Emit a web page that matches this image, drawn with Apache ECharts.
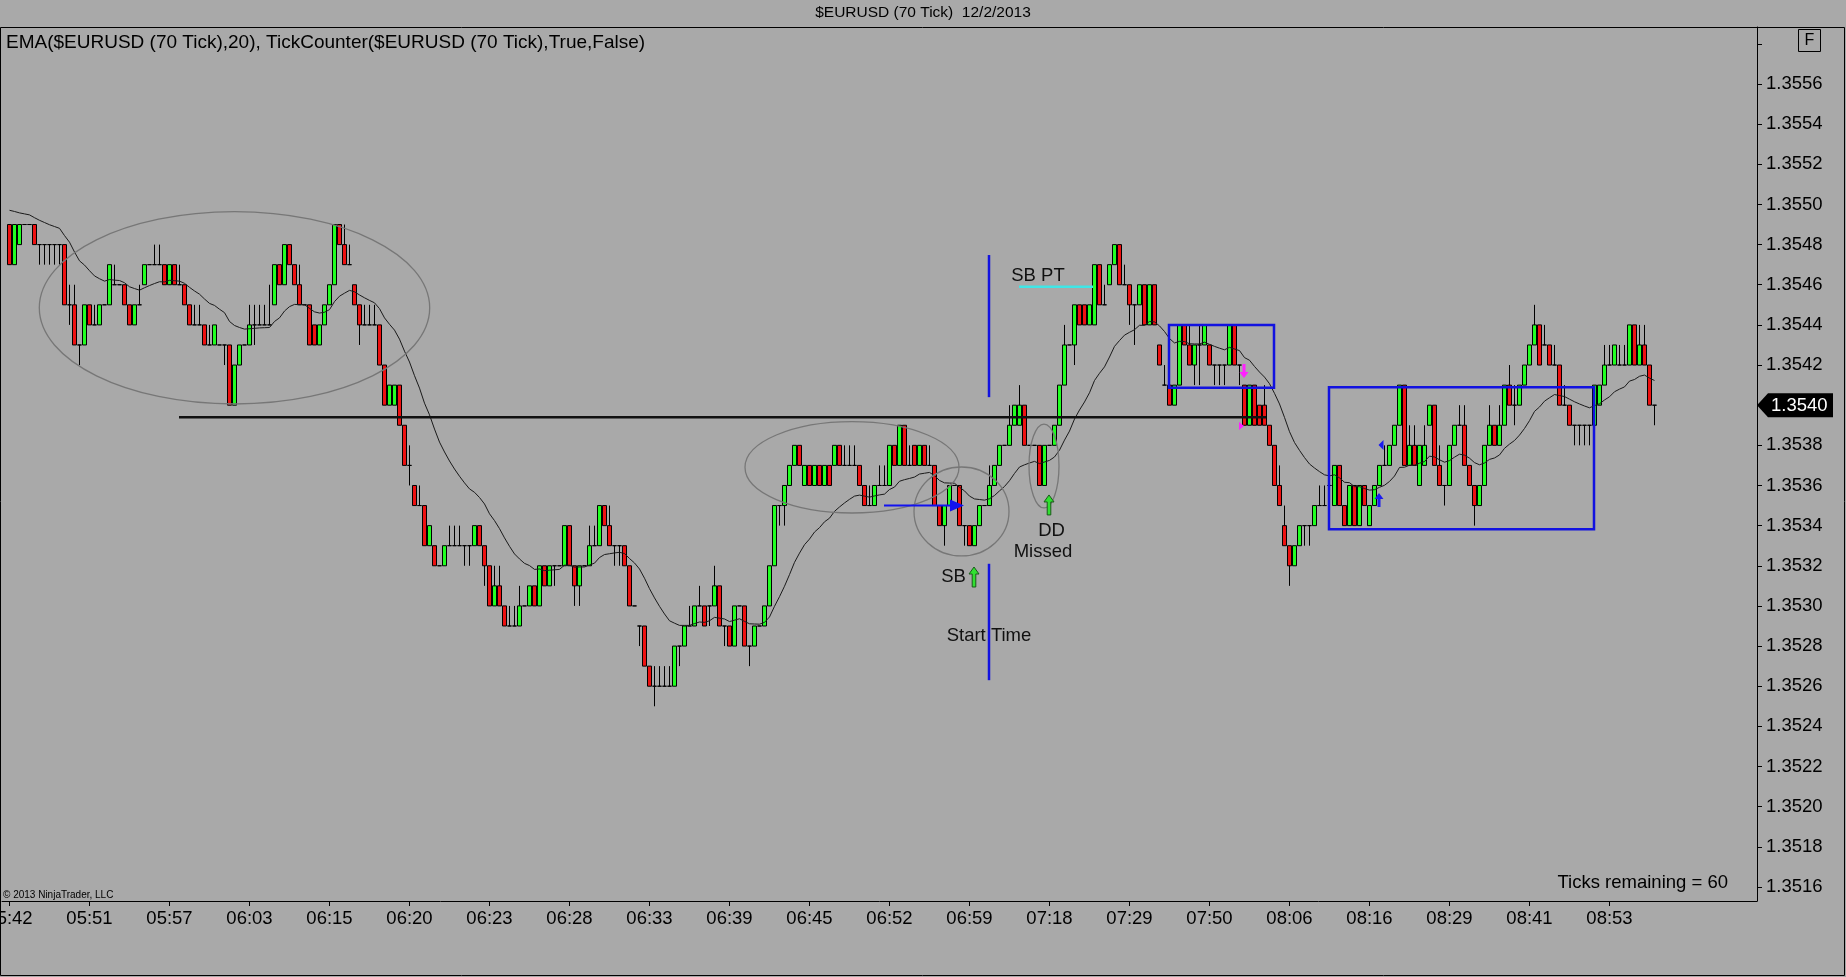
<!DOCTYPE html>
<html><head><meta charset="utf-8">
<script src="https://cdn.jsdelivr.net/npm/echarts@6/dist/echarts.min.js"></script>
<style>html,body{margin:0;padding:0;background:#a9a9a9;}#c{width:1846px;height:977px;}</style>
</head><body><div id="c"></div>
<script>
// ================= DATA =================
const timeLabels = ['05:42','05:51','05:57','06:03','06:15','06:20','06:23','06:28','06:33','06:39',
  '06:45','06:52','06:59','07:18','07:29','07:50','08:06','08:16','08:29','08:41','08:53'];
const barsPerLabel = 16;      // one time label every 16 bars
const firstLabelSlot = 1;     // slot of the first bar / first label
const slotCount = 351;        // bar slots across the plot (incl. empty right margin)

// OHLC of the 70-tick bars, in pips above 1.3500 (e.g. 49 -> 1.3549)
const openPips = [
 49,47,48,49,49,49,48,48,48,48, 48,48,45,45,43,43,45,44,44,45, 45,46,46,46,45,44,45,46,47,47,
 47,47,46,47,46,46,45,44,44,44, 43,43,43,43,43,40,42,43,43,44, 44,44,44,45,47,46,48,47,46,45,
 45,44,43,44,45,46,49,48,47,46, 45,44,44,44,44,42,40,40,41,39, 37,36,35,35,33,33,32,32,33,33,
 33,33,33,33,34,33,32,30,31,30, 29,29,29,30,30,31,30,32,31,32, 32,32,34,32,31,32,32,33,33,35,
 34,33,33,33,32,30,29,29,27,26, 26,26,26,26,28,28,29,29,30,30, 30,30,31,29,29,28,30,30,28,28,
 29,29,30,32,35,35,36,37,38,36, 37,36,37,36,37,37,38,37,37,37, 37,36,35,35,36,36,36,38,37,39,
 37,38,37,38,37,37,35,34,35,36, 36,34,34,33,34,35,35,36,37,38, 38,39,39,40,38,38,38,36,38,38,
 39,41,43,43,45,45,44,44,47,45, 46,47,48,46,46,45,45,46,44,46, 43,41,41,40,41,44,43,42,43,43,
 43,42,42,42,42,44,42,41,39,41, 40,40,39,38,36,34,33,32,33,34, 34,34,35,35,36,35,37,35,34,36,
 34,36,34,35,36,37,37,38,39,41, 37,38,36,37,39,40,37,36,36,38, 39,39,37,36,35,36,38,39,38,39,
 41,40,40,41,42,43,44,43,43,42, 42,40,40,39,39,39,39,39,40,41, 42,42,42,42,42,44,42,43,42,40];
const highPips = [
 49,49,49,49,49,49,48,48,48,48, 48,48,46,46,43,45,45,45,45,45, 47,47,46,46,45,45,46,47,47,48,
 48,47,47,47,47,46,45,45,45,44, 44,44,43,43,43,42,43,43,45,45, 45,45,46,47,47,48,48,47,47,45,
 45,44,44,45,46,49,49,49,48,46, 45,45,45,45,44,42,41,41,41,39, 38,36,36,35,34,33,32,33,34,34,
 34,33,33,34,34,33,32,32,32,30, 30,30,31,30,31,31,32,32,32,32, 32,34,34,32,32,32,34,34,35,35,
 35,33,33,33,32,30,29,29,27,27, 27,27,27,28,28,29,30,30,31,30, 30,32,31,29,29,30,30,30,28,29,
 29,30,32,35,35,36,37,38,38,37, 37,37,37,37,37,38,38,38,38,38, 37,36,36,36,37,37,38,38,39,39,
 38,38,38,38,38,37,35,35,36,36, 36,34,34,34,35,35,37,37,38,38, 40,40,41,40,38,38,38,38,38,39,
 41,44,43,45,45,45,45,47,47,46, 47,48,48,47,46,45,46,46,46,46, 43,42,41,41,44,44,44,43,44,44,
 43,42,42,42,44,44,42,41,41,41, 40,41,39,38,37,35,33,33,34,34, 34,35,36,36,37,37,37,35,36,36,
 36,36,35,36,37,38,38,39,41,41, 39,39,38,39,40,40,38,36,38,39, 40,40,37,36,36,38,40,39,40,41,
 42,41,41,42,43,45,44,44,43,43, 42,41,40,39,39,39,39,41,41,43, 43,43,43,43,44,44,44,44,42,40];
const lowPips = [
 47,47,48,49,49,48,47,47,47,47, 47,45,44,43,42,43,44,44,44,45, 45,46,46,45,44,44,45,46,47,47,
 47,46,46,46,46,45,44,44,44,43, 43,43,43,42,40,40,42,43,43,43, 44,44,44,45,46,46,47,46,45,45,
 43,43,43,44,45,46,48,47,47,45, 43,44,44,44,42,40,40,40,39,37, 36,35,35,33,33,32,32,32,33,33,
 33,32,32,33,33,31,30,30,30,29, 29,29,29,30,30,30,30,31,31,31, 32,32,32,30,30,32,32,33,33,34,
 33,32,32,32,30,30,28,27,26,25, 26,26,26,26,27,28,29,29,30,29, 29,30,29,28,28,28,30,28,27,28,
 29,29,30,32,34,34,36,37,37,36, 36,36,36,36,36,37,37,37,37,37, 36,35,35,35,36,36,36,37,37,37,
 37,37,37,37,37,35,34,33,35,36, 34,33,33,33,34,35,35,36,37,38, 38,39,39,38,38,38,36,36,38,38,
 39,41,43,42,44,44,44,44,45,45, 46,47,46,46,44,43,45,44,44,44, 42,41,40,40,41,43,42,41,41,43,
 42,41,41,41,42,42,41,39,39,39, 39,39,38,36,35,33,31,32,33,33, 33,34,35,35,35,35,35,34,34,34,
 34,35,34,35,36,37,37,38,39,37, 37,37,36,37,39,37,36,35,36,38, 39,37,36,34,35,36,38,38,38,39,
 40,39,40,41,42,43,42,43,42,42, 40,40,39,38,38,38,38,39,40,41, 42,42,42,42,42,42,42,42,40,39];
const closePips = [
 47,49,49,49,49,48,48,48,48,48, 48,45,45,43,43,45,44,44,45,45, 47,46,46,45,44,45,45,47,47,47,
 47,46,47,46,46,45,44,44,44,43, 43,44,43,43,40,42,43,43,44,44, 44,44,44,47,46,48,47,46,45,45,
 43,43,44,45,46,49,48,47,47,45, 44,44,44,44,42,40,41,41,39,37, 37,35,35,33,34,32,32,33,33,33,
 33,33,33,34,33,32,30,31,30,29, 29,29,30,30,31,30,32,31,32,32, 32,34,32,31,32,32,33,33,35,34,
 33,33,33,32,30,30,29,27,26,26, 26,26,26,28,28,29,29,30,30,29, 30,31,29,29,28,30,30,28,28,29,
 29,30,32,35,35,36,37,38,37,37, 36,37,36,37,36,38,37,37,37,37, 36,35,35,36,36,36,38,37,39,37,
 37,37,38,37,37,35,34,35,36,36, 34,34,33,34,35,35,36,37,38,38, 39,40,40,38,38,38,36,38,38,39,
 41,43,43,45,44,44,45,47,45,45, 47,48,46,46,45,45,46,44,46,44, 42,41,40,41,44,43,42,43,43,44,
 42,42,42,42,44,42,42,39,41,39, 39,39,38,36,35,33,32,33,34,34, 34,35,35,35,36,37,35,34,36,34,
 36,35,35,36,37,37,38,39,41,37, 38,37,38,38,40,37,36,36,38,39, 39,37,36,35,36,38,39,38,39,41,
 40,40,41,42,43,44,42,43,42,42, 40,40,39,39,39,39,39,41,41,42, 42,43,42,42,44,42,43,42,40,40];

const emaPeriod = 20;
const emaStartValue = 1.35500;   // EMA level just before the first visible bar

const priceLabels = [1.3516,1.3518,1.3520,1.3522,1.3524,1.3526,1.3528,1.3530,1.3532,1.3534,1.3536,
  1.3538,1.3540,1.3542,1.3544,1.3546,1.3548,1.3550,1.3552,1.3554,1.3556];
const unlabeledTicks = [1.3558];
const priceMin = 1.35153, priceMax = 1.355884;
const lastPrice = 1.3540;
const dashedLevel = 1.3550;
const solidLevel = 1.35248;

// drawn objects, in (bar index, price)
const ellipses = [ [6.96, 85.04, 1.354964, 1.354006], [148.1, 190.9, 1.353918, 1.353463],
                   [181.9, 200.9, 1.353692, 1.353249], [204.9, 210.9, 1.353906, 1.353488] ];
const boxes = [ [232.9, 253.9, 1.35440, 1.354087], [264.9, 317.9, 1.354089, 1.353382] ];
const startTimeLine = [ [196.9, 1.354748, 1.35404], [196.9, 1.35321, 1.35263] ];
const blackLevelLine = [34.9, 252.3, 1.35394];
const targetLine = [202.9, 217.7, 1.35459];
const blueArrow = [175.9, 191.9, 1.35350];
const notes = [ ['SB PT', 206.7, 1.354644], ['DD', 209.4, 1.353373], ['Missed', 207.7, 1.353269],
                ['Start Time', 196.9, 1.352852], ['SB', 189.8, 1.353144] ];
const greenArrows = [ [193.9, 1.353144], [208.9, 1.353503] ];
const magentaDown = [247.9, 1.35417];
const magentaRight = [247.3, 1.353896];
const blueUp = [274.9, 1.353528];
const blueLeft = [275.4, 1.353802];

// ================= BUILD =================
const FONT = '"Liberation Sans", Arial, sans-serif';
const toPrice = v => +(1.35 + v / 10000).toFixed(5);
const categories = [];
for (let i = 0; i < slotCount; i++) categories.push(String(i));
const labelAt = i => {
  const j = (i - firstLabelSlot) / barsPerLabel;
  return (Number.isInteger(j) && j >= 0 && j < timeLabels.length) ? timeLabels[j] : '';
};
const hasLabel = i => labelAt(i) !== '';

const candles = [['-', '-', '-', '-']];
const alpha = 2 / (emaPeriod + 1);
const ema = [null];
let e = emaStartValue;
for (let k = 0; k < openPips.length; k++) {
  candles.push([toPrice(openPips[k]), toPrice(closePips[k]), toPrice(lowPips[k]), toPrice(highPips[k])]);
  e = e + alpha * (toPrice(closePips[k]) - e);
  ema.push(+e.toFixed(6));
}

const chart = echarts.init(document.getElementById('c'), null, {renderer: 'canvas', width: 1846, height: 977});
chart.setOption({
  animation: false,
  backgroundColor: '#a9a9a9',
  grid: {left: 2, right: 89, top: 27, bottom: 76, show: false, containLabel: false, outerBoundsMode: 'none'},
  xAxis: {
    type: 'category', data: categories, boundaryGap: true,
    axisLine: {show: true, lineStyle: {color: '#000', width: 1}},
    axisTick: {show: true, alignWithLabel: true, interval: i => hasLabel(i), length: 5, lineStyle: {color: '#000'}},
    axisLabel: {interval: i => hasLabel(i), formatter: (v) => labelAt(+v), color: '#000',
      fontFamily: FONT, fontSize: 18.5, margin: 8, hideOverlap: false},
    splitLine: {show: false}
  },
  yAxis: {
    type: 'value', position: 'right', min: priceMin, max: priceMax, scale: true,
    axisLine: {show: true, lineStyle: {color: '#000'}},
    axisTick: {show: true, length: 5, customValues: priceLabels.concat(unlabeledTicks), lineStyle: {color: '#000'}},
    axisLabel: {customValues: priceLabels, formatter: v => v.toFixed(4), color: '#000',
      fontFamily: FONT, fontSize: 18.5, margin: 9},
    splitLine: {show: false}
  },
  series: [
    {
      type: 'candlestick', data: candles, barWidth: 4.2,
      itemStyle: {color: '#22ff22', color0: '#ee1111', borderColor: '#000', borderColor0: '#000',
        borderColorDoji: '#000', borderWidth: 1}
    },
    {
      type: 'line', data: ema, showSymbol: false, symbol: 'none', connectNulls: false,
      lineStyle: {color: '#1a1a1a', width: 1}, z: 3,
      markLine: {silent: true, symbol: ['none', 'none'], label: {show: false},
        data: [
          {yAxis: dashedLevel, lineStyle: {color: '#1c1ce0', width: 2, type: [5, 3]}},
          {yAxis: solidLevel, lineStyle: {color: '#1c1ce0', width: 2.5, type: 'solid'}}
        ]}
    }
  ]
});

// ---- annotations placed through the axes ----
const xa = chart.convertToPixel({xAxisIndex: 0}, '0');
const xb = chart.convertToPixel({xAxisIndex: 0}, '100');
const xPix = k => xa + k * (xb - xa) / 100;
const yPix = p => chart.convertToPixel({yAxisIndex: 0}, p);
const gridRight = 1846 - 89;

const g = [];
// window frame
g.push({type: 'rect', z: 20, shape: {x: 0.5, y: 27.5, width: 1844, height: 948}, style: {fill: 'none', stroke: '#000', lineWidth: 1}});
// title and labels
g.push({type: 'text', z: 20, style: {text: '$EURUSD (70 Tick)  12/2/2013', x: 923, y: 13, align: 'center', verticalAlign: 'middle', font: '15.5px ' + FONT, fill: '#000'}});
g.push({type: 'text', z: 20, style: {text: 'EMA($EURUSD (70 Tick),20), TickCounter($EURUSD (70 Tick),True,False)', x: 6, y: 43, align: 'left', verticalAlign: 'middle', font: '19px ' + FONT, fill: '#000'}});
g.push({type: 'text', z: 20, style: {text: 'Ticks remaining = 60', x: 1728, y: 883, align: 'right', verticalAlign: 'middle', font: '18.5px ' + FONT, fill: '#000'}});
g.push({type: 'text', z: 20, style: {text: '\u00a9 2013 NinjaTrader, LLC', x: 3, y: 895, align: 'left', verticalAlign: 'middle', font: '10px ' + FONT, fill: '#000'}});
// F box
g.push({type: 'rect', z: 20, shape: {x: 1798.5, y: 29.5, width: 22, height: 22}, style: {fill: 'none', stroke: '#000', lineWidth: 1}});
g.push({type: 'text', z: 20, style: {text: 'F', x: 1809.5, y: 41, align: 'center', verticalAlign: 'middle', font: '16px ' + FONT, fill: '#000'}});
// last price tag
const yp = yPix(lastPrice);
g.push({type: 'polygon', z: 20, shape: {points: [[gridRight, yp], [gridRight + 11, yp - 12], [1833, yp - 12], [1833, yp + 12], [gridRight + 11, yp + 12]]}, style: {fill: '#000'}});
g.push({type: 'text', z: 21, style: {text: lastPrice.toFixed(4), x: 1771, y: yp + 1, align: 'left', verticalAlign: 'middle', font: '18.5px ' + FONT, fill: '#fff'}});

// ellipses
ellipses.forEach(([k0, k1, pt, pb]) => {
  const x0 = xPix(k0), x1 = xPix(k1), y0 = yPix(pt), y1 = yPix(pb);
  g.push({type: 'ellipse', z: 10, shape: {cx: (x0 + x1) / 2, cy: (y0 + y1) / 2, rx: (x1 - x0) / 2, ry: (y1 - y0) / 2},
    style: {fill: 'none', stroke: '#777', lineWidth: 1.3}});
});
// boxes
boxes.forEach(([k0, k1, pt, pb]) => {
  const x0 = xPix(k0), x1 = xPix(k1), y0 = yPix(pt), y1 = yPix(pb);
  g.push({type: 'rect', z: 10, shape: {x: x0, y: y0, width: x1 - x0, height: y1 - y0},
    style: {fill: 'none', stroke: '#1212e0', lineWidth: 2.5}});
});
// start time vertical line
startTimeLine.forEach(([k, p0, p1]) => {
  g.push({type: 'line', z: 10, shape: {x1: xPix(k), y1: yPix(p0), x2: xPix(k), y2: yPix(p1)}, style: {stroke: '#1212e0', lineWidth: 2.5}});
});
// black level
g.push({type: 'line', z: 10, shape: {x1: xPix(blackLevelLine[0]), y1: yPix(blackLevelLine[2]), x2: xPix(blackLevelLine[1]), y2: yPix(blackLevelLine[2])}, style: {stroke: '#111', lineWidth: 2.5}});
// target (cyan)
g.push({type: 'line', z: 10, shape: {x1: xPix(targetLine[0]), y1: yPix(targetLine[2]), x2: xPix(targetLine[1]), y2: yPix(targetLine[2])}, style: {stroke: '#3fe6e6', lineWidth: 2.5}});
// blue horizontal arrow
{
  const xs = xPix(blueArrow[0]), xe = xPix(blueArrow[1]), ya = yPix(blueArrow[2]);
  g.push({type: 'line', z: 11, shape: {x1: xs, y1: ya, x2: xe - 12, y2: ya}, style: {stroke: '#1212f0', lineWidth: 2}});
  g.push({type: 'polygon', z: 11, shape: {points: [[xe, ya], [xe - 14, ya - 6], [xe - 14, ya + 6]]}, style: {fill: '#1212f0'}});
}
// notes
notes.forEach(([t, k, p]) => {
  g.push({type: 'text', z: 12, style: {text: t, x: xPix(k), y: yPix(p), align: 'center', verticalAlign: 'middle', font: '18.5px ' + FONT, fill: '#111'}});
});
// green hollow arrows
greenArrows.forEach(([k, p]) => {
  const cx = xPix(k), cy = yPix(p);
  g.push({type: 'polygon', z: 12, shape: {points: [[cx, cy - 10], [cx + 5, cy - 3], [cx + 1.8, cy - 3], [cx + 1.8, cy + 10], [cx - 1.8, cy + 10], [cx - 1.8, cy - 3], [cx - 5, cy - 3]]},
    style: {fill: '#30e030', stroke: '#1a5a1a', lineWidth: 1}});
});
// magenta down arrow
{
  const cx = xPix(magentaDown[0]), cy = yPix(magentaDown[1]);
  g.push({type: 'polygon', z: 12, shape: {points: [[cx, cy + 7], [cx + 4.5, cy + 1], [cx + 1.5, cy + 1], [cx + 1.5, cy - 7], [cx - 1.5, cy - 7], [cx - 1.5, cy + 1], [cx - 4.5, cy + 1]]}, style: {fill: '#ff20ff'}});
  const mx = xPix(magentaRight[0]), my = yPix(magentaRight[1]);
  g.push({type: 'polygon', z: 12, shape: {points: [[mx + 3, my], [mx - 2, my - 4], [mx - 2, my + 4]]}, style: {fill: '#ff20ff'}});
}
// blue small arrows
{
  const cx = xPix(blueUp[0]), cy = yPix(blueUp[1]);
  g.push({type: 'polygon', z: 12, shape: {points: [[cx, cy - 7], [cx + 4.5, cy - 1], [cx + 1.5, cy - 1], [cx + 1.5, cy + 7], [cx - 1.5, cy + 7], [cx - 1.5, cy - 1], [cx - 4.5, cy - 1]]}, style: {fill: '#1a1af0'}});
  const lx = xPix(blueLeft[0]), ly = yPix(blueLeft[1]);
  g.push({type: 'polygon', z: 12, shape: {points: [[lx - 3, ly], [lx + 2, ly - 5], [lx + 2, ly + 5]]}, style: {fill: '#1a1af0'}});
}
chart.setOption({graphic: g});
</script>
</body></html>
